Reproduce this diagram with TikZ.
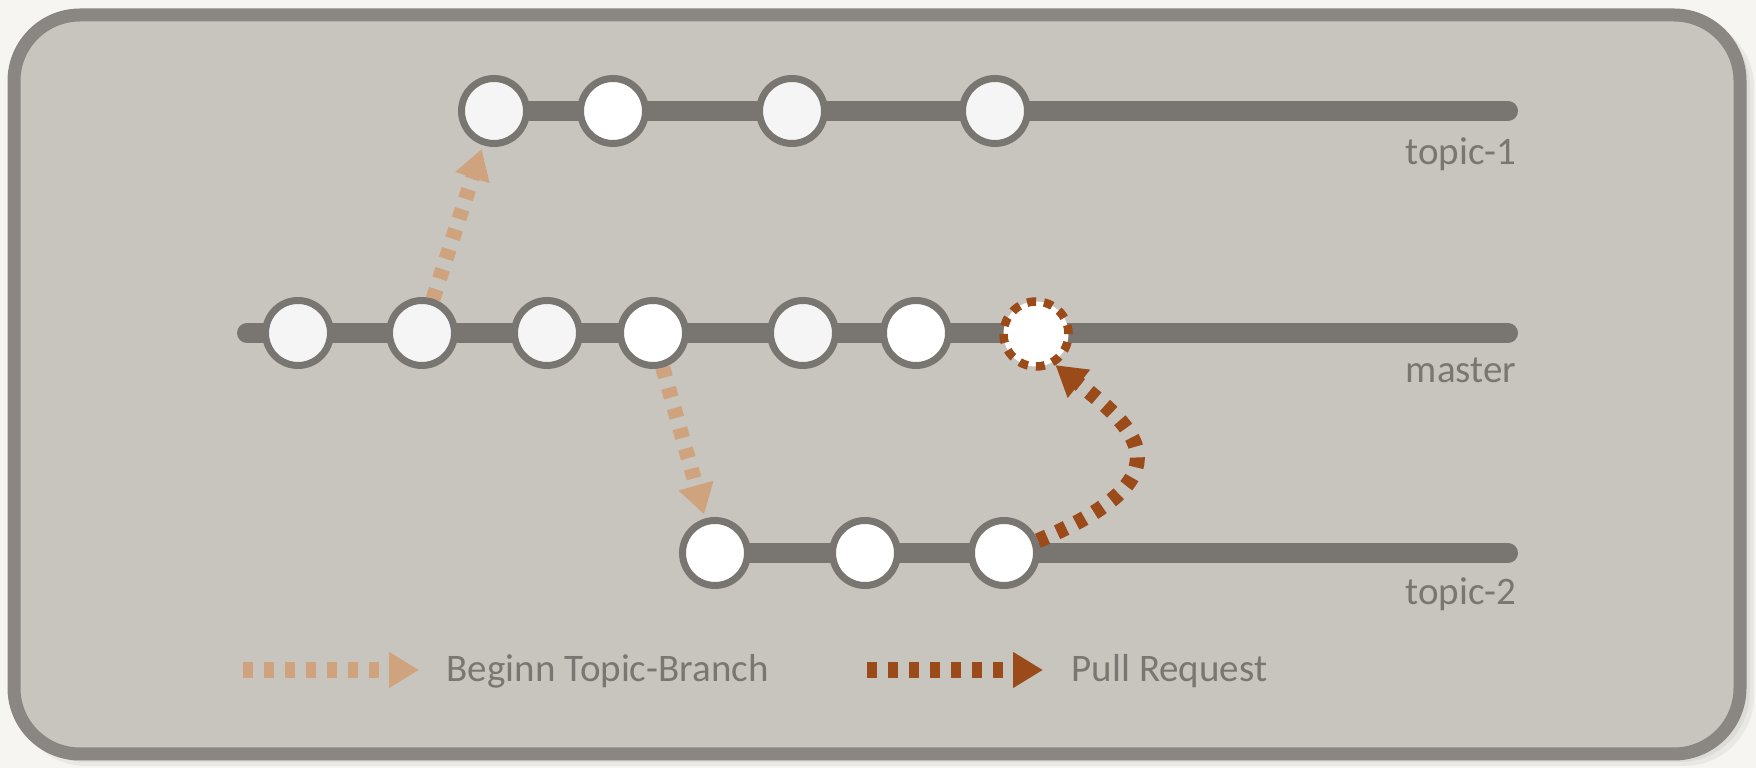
\documentclass[tikz,border=0pt]{standalone}
\usepackage{fontspec}
\setmainfont{Carlito}
\usetikzlibrary{arrows.meta,backgrounds}

\definecolor{pagebg}{HTML}{F7F5F2}
\definecolor{panelbg}{HTML}{C8C4BE}
\definecolor{panelframe}{HTML}{8A8681}
\definecolor{branchgrey}{HTML}{797671}
\definecolor{commitfill}{HTML}{F5F5F5}
\definecolor{labelgrey}{HTML}{7A7672}
\definecolor{topictan}{HTML}{CFA37D}
\definecolor{pullbrown}{HTML}{9B4A19}

\begin{document}
\begin{tikzpicture}[x=0.1mm, y=-0.1mm,
  commit/.style={circle, draw=branchgrey, line width=0.7mm, fill=commitfill, minimum size=6.5mm, inner sep=0pt},
  newcommit/.style={commit, fill=white},
  merged/.style={commit, draw=pullbrown, fill=white, line width=0.85mm, dash pattern=on 0.9mm off 0.8mm},
  branchline/.style={draw=branchgrey, line width=2mm, line cap=round},
  topicarrow/.style={draw=topictan, line width=1.5mm, dash pattern=on 1mm off 1.1mm, -{Triangle[length=3mm,width=3.4mm]}},
  pullarrow/.style={topicarrow, draw=pullbrown},
  branchlabel/.style={anchor=base east, text=labelgrey, font=\fontsize{11.1pt}{13pt}\selectfont, inner sep=0pt},
  legendlabel/.style={branchlabel, anchor=base west}]

\useasboundingbox (0,0) rectangle (1756,768);

\node[commit] (t1a) at (494,111) {};
\node[newcommit] (t1b) at (613,111) {};
\node[commit] (t1c) at (792,111) {};
\node[commit] (t1d) at (995,111) {};

\node[commit] (m1) at (298,333) {};
\node[commit] (m2) at (422,333) {};
\node[commit] (m3) at (547,333) {};
\node[newcommit] (m4) at (653,333) {};
\node[commit] (m5) at (803,333) {};
\node[newcommit] (m6) at (916,333) {};
\node[merged] (merge) at (1036,334) {};

\node[newcommit] (t2a) at (715,553) {};
\node[newcommit] (t2b) at (865,553) {};
\node[newcommit] (t2c) at (1004,553) {};

\node[branchlabel] (lt1) at (1517,165) {topic-1};
\node[branchlabel] (lm) at (1517,383) {master};
\node[branchlabel] (lt2) at (1517,605) {topic-2};

\begin{scope}[on background layer]
\fill[pagebg] (0,0) rectangle (1756,768);
\fill[black, opacity=0.05, rounded corners=7mm] (16,17) rectangle (1754,766);
\fill[black, opacity=0.05, rounded corners=7mm] (16,17) rectangle (1750,762);
\draw[panelframe, fill=panelbg, line width=1.3mm, rounded corners=6.6mm] (14,15) rectangle (1740,754);

\coordinate (t1end) at (1508,111);
\coordinate (mstart) at (247,333);
\coordinate (mend) at (1508,333);
\coordinate (t2end) at (1508,553);
\draw[branchline] (t1a) -- (t1end);
\draw[branchline] (mstart) -- (mend);
\draw[branchline] (t2a) -- (t2end);

\draw[topicarrow, shorten >=0.4mm] (m2) -- (t1a);
\draw[topicarrow, shorten >=0.4mm] (m4) -- (t2a);
\draw[pullarrow] (t2c.20) .. controls +(156,-65) and +(78,62) .. (merge.-58);
\end{scope}

\coordinate (lgTanFrom) at (243,670);
\coordinate (lgTanTo) at (419,670);
\coordinate (lgPullFrom) at (867,670);
\coordinate (lgPullTo) at (1043,670);
\draw[topicarrow, line width=1.6mm] (lgTanFrom) -- (lgTanTo);
\node[legendlabel] (lgTan) at (446,682) {Beginn Topic-Branch};
\draw[pullarrow, line width=1.6mm] (lgPullFrom) -- (lgPullTo);
\node[legendlabel] (lgPull) at (1071,682) {Pull Request};
\end{tikzpicture}
\end{document}
